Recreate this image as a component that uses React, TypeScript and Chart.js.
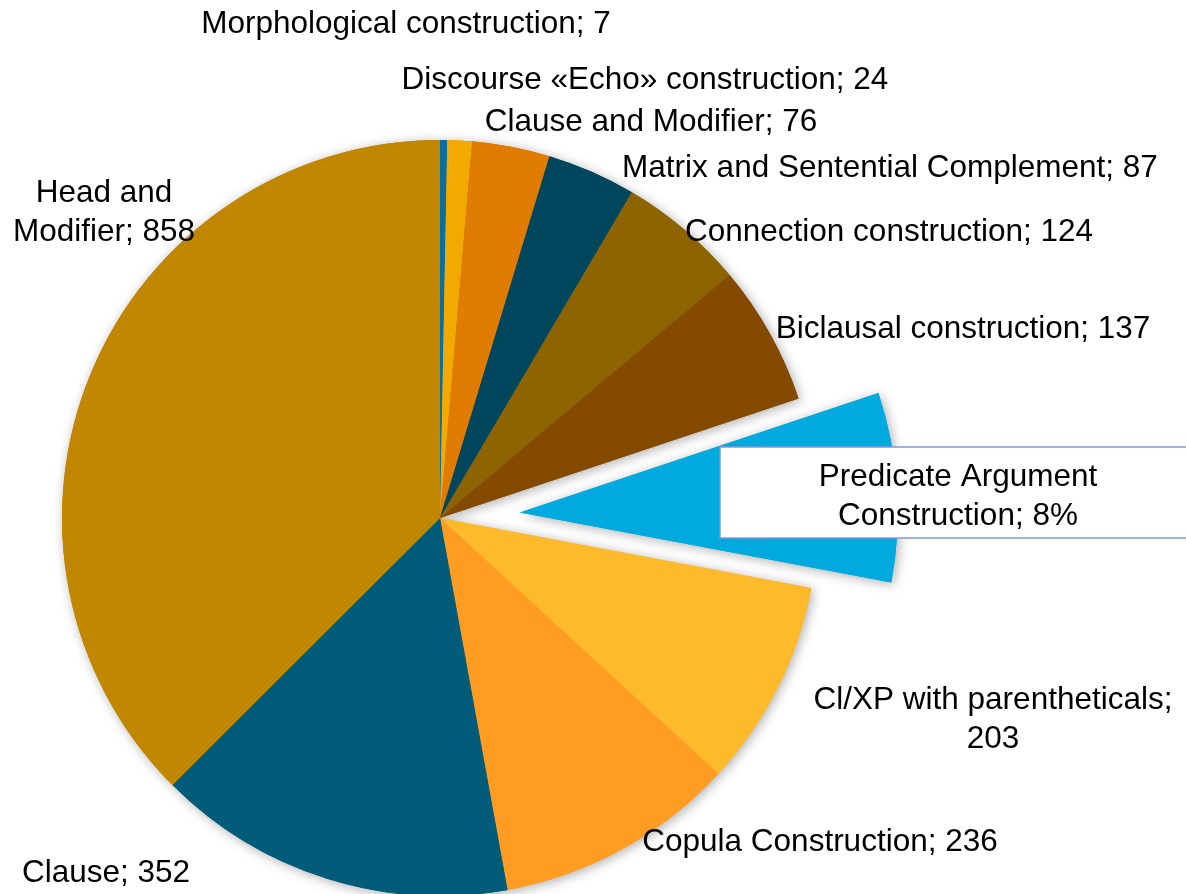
import React, { useEffect, useRef } from 'react';
import { Chart, registerables } from 'chart.js';

Chart.register(...registerables);

// ---- data ----
const categories: string[] = [
  'Morphological construction',
  'Discourse «Echo» construction',
  'Clause and Modifier',
  'Matrix and Sentential Complement',
  'Connection construction',
  'Biclausal construction',
  'Predicate Argument Construction',
  'Cl/XP with parentheticals',
  'Copula Construction',
  'Clause',
  'Head and Modifier',
];
const values: number[] = [7, 24, 76, 87, 124, 137, 185, 203, 236, 352, 858];
const labelAsPercent: boolean[] = [false, false, false, false, false, false, true, false, false, false, false];

// ---- styles ----
const colors: string[] = [
  '#0A6F9E',
  '#F2A900',
  '#E07C00',
  '#00475E',
  '#8E6400',
  '#844A00',
  '#00A9DE',
  '#FFBA2C',
  '#FF9C21',
  '#005C78',
  '#C28700',
];
const explode: number[] = [0, 0, 0, 0, 0, 0, 80, 0, 0, 0, 0];

// ---- label layout (text block centres) ----
const labelX: number[] = [406, 645, 651, 890, 889, 963, 958, 993, 820, 106, 104];
const labelY: number[] = [24, 80, 122, 168, 232, 329, 497, 720, 842, 873, 213];
const labelWrap: number[] = [900, 900, 900, 900, 900, 900, 300, 380, 900, 900, 200];
const labelBox: (null | [number, number, number, number])[] = [
  null, null, null, null, null, null, [720, 447, 480, 91], null, null, null, null,
];

const FONT = '31.5px "Liberation Sans", Arial, Helvetica, sans-serif';
const LINE_H = 38.5;

function wrap(ctx: CanvasRenderingContext2D, text: string, maxW: number): string[] {
  const words = text.split(' ');
  const lines: string[] = [];
  let cur = '';
  for (const w of words) {
    const test = cur ? cur + ' ' + w : w;
    if (ctx.measureText(test).width > maxW && cur) {
      lines.push(cur);
      cur = w;
    } else {
      cur = test;
    }
  }
  if (cur) lines.push(cur);
  return lines;
}

const piePlugin = {
  id: 'piePlugin',
  beforeDatasetDraw(chart: any, args: any) {
    const meta = chart.getDatasetMeta(args.index);
    const ctx: CanvasRenderingContext2D = chart.ctx;
    const drawAll = () => {
      meta.data.forEach((arc: any, i: number) => {
        const d = explode[i] || 0;
        const mid = (arc.startAngle + arc.endAngle) / 2;
        ctx.save();
        ctx.translate(Math.cos(mid) * d, Math.sin(mid) * d);
        arc.draw(ctx);
        ctx.restore();
      });
    };
    ctx.save();
    ctx.shadowColor = 'rgba(0,0,0,0.32)';
    ctx.shadowBlur = 12;
    ctx.shadowOffsetX = 2;
    ctx.shadowOffsetY = 2;
    drawAll();
    ctx.restore();
    drawAll();
    return false;
  },
  afterDatasetsDraw(chart: any) {
    const ctx: CanvasRenderingContext2D = chart.ctx;
    const total = values.reduce((a, b) => a + b, 0);
    ctx.save();
    ctx.font = FONT;
    ctx.textAlign = 'center';
    ctx.textBaseline = 'middle';
    categories.forEach((cat, i) => {
      const valText = labelAsPercent[i]
        ? Math.round((values[i] / total) * 100) + '%'
        : String(values[i]);
      const text = `${cat}; ${valText}`;
      const box = labelBox[i];
      if (box) {
        ctx.fillStyle = '#ffffff';
        ctx.fillRect(box[0], box[1], box[2], box[3]);
        ctx.strokeStyle = '#7E9AD6';
        ctx.lineWidth = 1.5;
        ctx.strokeRect(box[0], box[1], box[2], box[3]);
      }
      const lines = wrap(ctx, text, labelWrap[i]);
      const y0 = labelY[i] - ((lines.length - 1) * LINE_H) / 2;
      ctx.fillStyle = '#000000';
      lines.forEach((ln, k) => {
        ctx.fillText(ln, labelX[i], y0 + k * LINE_H);
      });
    });
    ctx.restore();
  },
};

export default function App() {
  const ref = useRef<HTMLCanvasElement | null>(null);
  useEffect(() => {
    if (!ref.current) return;
    const chart = new Chart(ref.current, {
      type: 'pie',
      data: {
        labels: categories,
        datasets: [
          {
            data: values,
            backgroundColor: colors,
            borderWidth: 0,
          },
        ],
      },
      options: {
        responsive: false,
        animation: false,
        radius: 378,
        layout: { padding: { left: 0, right: 306, top: 142, bottom: 0 } },
        plugins: {
          legend: { display: false },
          tooltip: { enabled: false },
          title: { display: false },
        },
      } as any,
      plugins: [piePlugin],
    });
    return () => chart.destroy();
  }, []);
  return (
    <div style={{ position: 'absolute', left: 0, top: 0, width: 1186, height: 894, background: '#fff' }}>
      <canvas ref={ref} width={1186} height={894} style={{ display: 'block' }} />
    </div>
  );
}
